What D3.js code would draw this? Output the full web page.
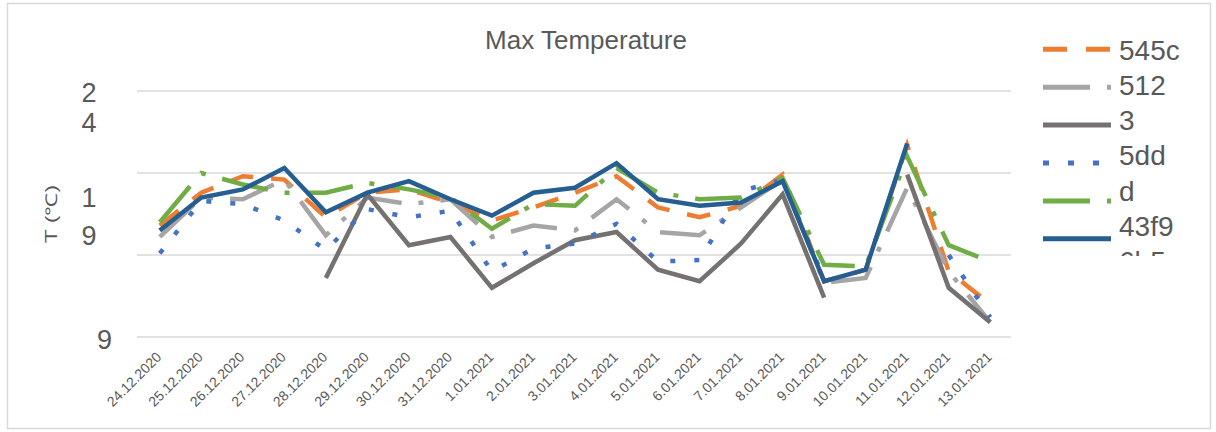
<!DOCTYPE html>
<html>
<head>
<meta charset="utf-8">
<script src="https://cdn.jsdelivr.net/npm/d3@7"></script>
<style>
  body { margin: 0; background: #fff; }
  svg { font-family: "Liberation Sans", Arial, sans-serif; }
</style>
</head>
<body>
<div id="chart"></div>
<script>
// Max temperature per station, one array per series (null = no reading)
const dates = ["24.12.2020", "25.12.2020", "26.12.2020", "27.12.2020", "28.12.2020",
    "29.12.2020", "30.12.2020", "31.12.2020", "1.01.2021", "2.01.2021", "3.01.2021",
    "4.01.2021", "5.01.2021", "6.01.2021", "7.01.2021", "8.01.2021", "9.01.2021",
    "10.01.2021", "11.01.2021", "12.01.2021", "13.01.2021"];

const s545c = [15.8, 17.8, 18.8, 18.6, 16.3, 17.8, 18.0, 17.2, 16.1, 16.9, 17.8,
    18.8, 16.9, 16.3, 17.0, 18.9, 12.4, 13.1, 20.7, 13.0, 11.0];
const s512 = [15.1, 17.5, 17.4, 18.6, 15.2, 17.5, 17.1, 17.4, 15.1, 15.8, 15.5,
    17.4, 15.4, 15.2, 16.9, 18.6, 12.3, 12.6, 18.1, 13.0, 9.9];
const s3 = [null, null, null, null, 12.6, 17.7, 14.6, 15.1, 12.0, 13.5, 14.9,
    15.4, 13.1, 12.4, 14.7, 17.7, 11.4, null, 18.9, 12.0, 9.9];
const s5dd = [14.1, 17.3, 17.1, 16.1, 14.3, 16.8, 16.3, 16.7, 13.0, 14.4, 14.7,
    15.9, 13.6, 13.7, 17.9, 18.6, 12.5, null, null, 14.0, 10.2];
const sd = [16.0, 19.0, 18.3, 17.8, 17.8, 18.4, 18.0, 17.5, 15.6, 17.1, 17.0,
    19.3, 17.8, 17.4, 17.5, 18.7, 13.4, 13.3, 20.0, 14.6, 13.6];
const s43f9 = [15.5, 17.5, 18.0, 19.3, 16.6, 17.8, 18.5, 17.4, 16.4, 17.8, 18.1,
    19.6, 17.4, 17.0, 17.2, 18.5, 12.4, 13.1, 20.8, null, null];

const seriesNames = ["545c", "512", "3", "5dd", "d", "43f9"];
const legendExtra = "6b5"; // last legend entry, cut off by the legend box
const yTicks = [9, 14, 19, 24];
// tick labels as printed (wrapped onto lines), offsets below the gridline
const yTickLabels = [
    { value: 24, lines: ["2", "4"], offs: [11, 40.7] },
    { value: 19, lines: ["1", "9"], offs: [34, 71.7] },
    { value: 9, lines: ["9"], offs: [12] }
];

const W = 1216, H = 432;

const svg = d3.select("#chart").append("svg")
    .attr("width", W)
    .attr("height", H);

svg.append("rect")
    .attr("x", 7.5).attr("y", 3.5)
    .attr("width", 1203).attr("height", 425)
    .attr("fill", "#fff")
    .attr("stroke", "#d9d9d9")
    .attr("stroke-width", 1.5);

const x = d3.scalePoint()
    .domain(dates)
    .range([139, 1011])
    .padding(0.5);

const y = d3.scaleLinear()
    .domain([9, 24])
    .range([337, 91]);

// gridlines
svg.append("g")
    .selectAll("line")
    .data(yTicks)
    .join("line")
    .attr("x1", 137).attr("x2", 1011)
    .attr("y1", d => y(d)).attr("y2", d => y(d))
    .attr("stroke", "#d9d9d9")
    .attr("stroke-width", 1.5);

// title
svg.append("text")
    .attr("x", 586).attr("y", 49)
    .attr("text-anchor", "middle")
    .style("font-size", "26px")
    .style("fill", "#595959")
    .text("Max Temperature");

// y tick labels
const yl = svg.append("g");
yTickLabels.forEach(t => {
    t.lines.forEach((ln, i) => {
        yl.append("text")
            .attr("x", t.lines.length > 1 ? 89 : 104.5)
            .attr("y", y(t.value) + t.offs[i])
            .attr("text-anchor", "middle")
            .style("font-size", "27px")
            .style("fill", "#595959")
            .text(ln);
    });
});

// y title (squeezed like the original)
svg.append("text")
    .attr("transform", "translate(57,214) scale(0.7,1) rotate(-90)")
    .attr("text-anchor", "middle")
    .style("font-size", "23px")
    .style("fill", "#595959")
    .text("T (℃)");

// x axis labels
const xAxis = svg.append("g")
    .attr("transform", "translate(0,337)")
    .call(d3.axisBottom(x).tickSize(0));
xAxis.select(".domain").remove();
xAxis.selectAll("text")
    .attr("x", 0).attr("y", 0).attr("dy", 0)
    .attr("transform", "translate(2,21) rotate(-45)")
    .attr("text-anchor", "end")
    .style("font-family", "Liberation Sans, Arial, sans-serif")
    .style("font-size", "14px")
    .style("fill", "#595959");

const styles = [
    { color: "#ED7D31", dash: "24,18" },
    { color: "#A5A5A5", dash: "47,17,5,17" },
    { color: "#767171", dash: null },
    { color: "#4472C4", dash: "5,19" },
    { color: "#70AD47", dash: "47,17,5,17" },
    { color: "#255E91", dash: null }
];
const allSeries = [s545c, s512, s3, s5dd, sd, s43f9];

const line = d3.line()
    .defined(d => d != null)
    .x((d, i) => x(dates[i]))
    .y(d => y(d));

svg.append("g")
    .selectAll("path")
    .data(allSeries)
    .join("path")
    .attr("d", d => line(d))
    .attr("fill", "none")
    .attr("stroke", (d, i) => styles[i].color)
    .attr("stroke-width", 4.5)
    .attr("stroke-dasharray", (d, i) => styles[i].dash);

// legend, clipped at the bottom like the original
svg.append("clipPath").attr("id", "legclip")
    .append("rect").attr("x", 1030).attr("y", 20).attr("width", 186).attr("height", 236);

const leg = svg.append("g").attr("clip-path", "url(#legclip)");

leg.selectAll("line")
    .data(seriesNames)
    .join("line")
    .attr("x1", 1043).attr("x2", 1111)
    .attr("y1", (d, i) => 49.3 + i * 37.9)
    .attr("y2", (d, i) => 49.3 + i * 37.9)
    .attr("stroke", (d, i) => styles[i].color)
    .attr("stroke-width", 5)
    .attr("stroke-dasharray", (d, i) => i === 0 ? "24,19" : i === 3 ? "6,19" : styles[i].dash);

leg.selectAll("text")
    .data(seriesNames.concat([legendExtra]))
    .join("text")
    .attr("x", 1119)
    .attr("y", (d, i) => 59.5 + i * 35.3)
    .style("font-size", "28px")
    .style("fill", "#595959")
    .text(d => d);
</script>
</body>
</html>
